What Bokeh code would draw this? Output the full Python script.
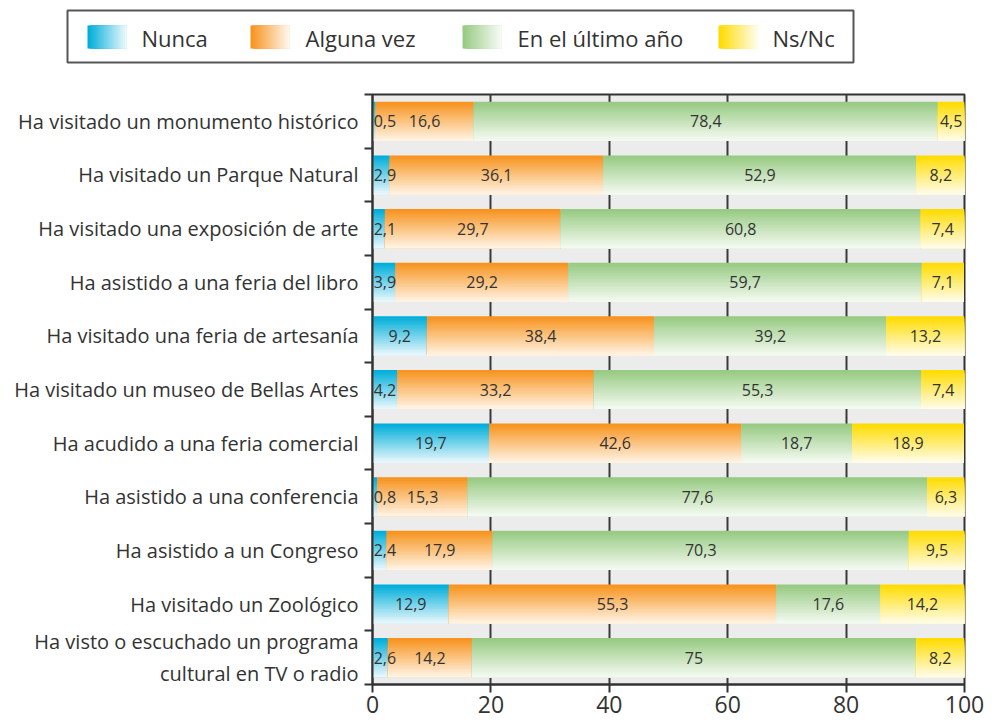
from bokeh.plotting import figure
from bokeh.models import ColumnDataSource, Range1d, FixedTicker, LinearAxis
from bokeh.layouts import column
from bokeh.core.properties import value
from bokeh.embed import file_html
from bokeh.resources import INLINE

categories = [
    "Ha visitado un monumento histórico",
    "Ha visitado un Parque Natural",
    "Ha visitado una exposición de arte",
    "Ha asistido a una feria del libro",
    "Ha visitado una feria de artesanía",
    "Ha visitado un museo de Bellas Artes",
    "Ha acudido a una feria comercial",
    "Ha asistido a una conferencia",
    "Ha asistido a un Congreso",
    "Ha visitado un Zoológico",
    "Ha visto o escuchado un programa\ncultural en TV o radio",
]
nunca = [0.5, 2.9, 2.1, 3.9, 9.2, 4.2, 19.7, 0.8, 2.4, 12.9, 2.6]
alguna_vez = [16.6, 36.1, 29.7, 29.2, 38.4, 33.2, 42.6, 15.3, 17.9, 55.3, 14.2]
ultimo_anio = [78.4, 52.9, 60.8, 59.7, 39.2, 55.3, 18.7, 77.6, 70.3, 17.6, 75]
ns_nc = [4.5, 8.2, 7.4, 7.1, 13.2, 7.4, 18.9, 6.3, 9.5, 14.2, 8.2]
series_names = ["Nunca", "Alguna vez", "En el último año", "Ns/Nc"]
x_ticks = [0, 20, 40, 60, 80, 100]

top_colors = ["#00AED9", "#F7931E", "#97CA82", "#FFDC00"]
bottom_colors = ["#E9F7FC", "#FFF3E4", "#F4FAF1", "#FFFCE9"]

FONT = "Open Sans"
TXT = "#333333"
N_STRIPS = 24
BAR_H = 0.73


def hex2rgb(h):
    h = h.lstrip("#")
    return [int(h[i:i + 2], 16) for i in (0, 2, 4)]


def mix(c1, c2, t):
    a, b = hex2rgb(c1), hex2rgb(c2)
    return "#%02x%02x%02x" % tuple(int(round(a[i] + (b[i] - a[i]) * t)) for i in range(3))


series = [nunca, alguna_vez, ultimo_anio, ns_nc]

# ---- gradient strips for the bars (each strip runs to the bar bottom, later ones on top)
L, R, T, B, C = [], [], [], [], []
lx, ly, lt = [], [], []
for i in range(len(categories)):
    left = 0.0
    bar_top = i + 0.5 - BAR_H / 2
    bar_bot = i + 0.5 + BAR_H / 2
    for s, vals in enumerate(series):
        v = vals[i]
        right = left + v
        for k in range(N_STRIPS):
            t = k / (N_STRIPS - 1)
            L.append(left)
            R.append(right)
            T.append(bar_top + k * BAR_H / N_STRIPS)
            B.append(bar_bot)
            C.append(mix(top_colors[s], bottom_colors[s], t))
        mid = (left + right) / 2
        lx.append(max(mid, 2.1))
        ly.append(i + 0.5)
        lt.append(("%g" % v).replace(".", ","))
        left = right

bars = ColumnDataSource(dict(left=L, right=R, top=T, bottom=B, color=C))
labels = ColumnDataSource(dict(x=lx, y=ly, text=lt))

LEG_H = 88
p = figure(
    output_backend="svg", toolbar_location=None,
    x_range=Range1d(0, 100), y_range=Range1d(len(categories), 0),
    frame_width=592, frame_height=590,
    min_border_left=372, min_border_right=26, min_border_top=6, min_border_bottom=36,
    x_axis_location=None, y_axis_location=None,
    background_fill_color="#ECECEC",
)
p.frame_align = False
p.outline_line_color = "#333333"
p.outline_line_width = 2

p.quad(left="left", right="right", top="top", bottom="bottom", fill_color="color",
       line_color=None, source=bars)
p.text(x="x", y="y", text="text", source=labels, text_align="center",
       text_baseline="middle", text_font=value(FONT), text_font_size="16px",
       text_color=TXT)

# x axis
xa = LinearAxis(ticker=FixedTicker(ticks=x_ticks, minor_ticks=[]))
xa.axis_line_color = "#333333"
xa.axis_line_width = 2
xa.major_tick_line_color = "#333333"
xa.major_tick_line_width = 2
xa.major_tick_in = 0
xa.major_tick_out = 8
xa.major_label_standoff = 3
xa.major_label_text_font = FONT
xa.major_label_text_font_size = "23px"
xa.major_label_text_color = TXT
p.add_layout(xa, "below")

# y axis: labels at centres, tick marks at boundaries
centres = [i + 0.5 for i in range(len(categories))]
bounds = list(range(len(categories) + 1))
ya = LinearAxis(ticker=FixedTicker(ticks=centres, minor_ticks=bounds))
ya.major_label_overrides = {c: lab for c, lab in zip(centres, categories)}
ya.axis_line_color = "#333333"
ya.axis_line_width = 2
ya.major_tick_in = 0
ya.major_tick_out = 0
ya.minor_tick_in = 0
ya.minor_tick_out = 8
ya.minor_tick_line_color = "#333333"
ya.minor_tick_line_width = 2
ya.major_label_standoff = 6
ya.major_label_text_font = FONT
ya.major_label_text_font_size = "20px"
ya.major_label_text_color = TXT
p.add_layout(ya, "left")

p.ygrid.visible = False
p.xgrid.ticker = FixedTicker(ticks=x_ticks)
p.xgrid.grid_line_color = "#3A3A3A"
p.xgrid.grid_line_width = 2

# ---- legend strip (separate figure in pixel coordinates)
LW = 990
lg = figure(
    output_backend="svg", toolbar_location=None,
    x_range=Range1d(0, LW), y_range=Range1d(LEG_H, 0),
    frame_width=LW, frame_height=LEG_H, min_border=0,
    x_axis_location=None, y_axis_location=None,
)
lg.frame_align = False
lg.outline_line_color = None
lg.xgrid.visible = False
lg.ygrid.visible = False

box_l, box_r, box_t, box_b = 67, 853, 10, 62
lg.quad(left=[box_l], right=[box_r], top=[box_t], bottom=[box_b],
        fill_color=None, line_color="#555555", line_width=2)

sq_x = [87, 250, 462, 718]
txt_x = [141, 305, 517, 772]
sq_w, sq_t, sq_b = 39, 25, 48
NS = 24
gl, gr, gc = [], [], []
for s in range(len(series_names)):
    for k in range(NS):
        t = k / (NS - 1)
        gl.append(sq_x[s] + k * sq_w / NS)
        gr.append(sq_x[s] + sq_w)
        gc.append(mix(top_colors[s], "#FFFFFF", t * 0.92))
lg.quad(left=gl, right=gr, top=[sq_t] * len(gl), bottom=[sq_b] * len(gl),
        fill_color=gc, line_color=None)
lg.text(x=txt_x, y=[(sq_t + sq_b) / 2 + 1] * 4, text=series_names,
        text_font=value(FONT), text_font_size="22px", text_color=TXT,
        text_baseline="middle", text_align="left")

layout = column(lg, p, spacing=0)
open("out.html", "w").write(file_html(layout, INLINE))
